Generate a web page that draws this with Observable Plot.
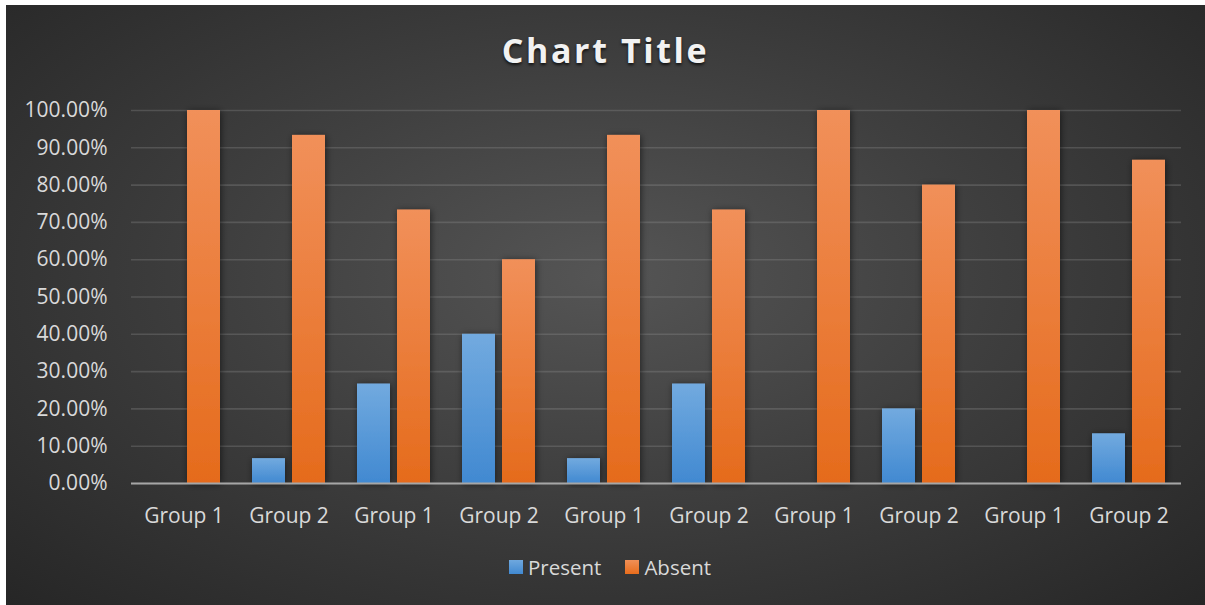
<!DOCTYPE html>
<html>
<head>
<meta charset="utf-8">
<script src="https://cdn.jsdelivr.net/npm/d3@7"></script>
<script src="https://cdn.jsdelivr.net/npm/@observablehq/plot@0.6"></script>
<style>
  html, body { margin: 0; padding: 0; background: #ffffff; }
  #frame {
    position: absolute; left: 6px; top: 5px; width: 1199px; height: 600px;
    background: radial-gradient(ellipse farthest-corner at 50% 45%, #555555 0%, #3f3f3f 45%, #262626 100%);
    font-family: "Open Sans", sans-serif; overflow: hidden;
  }
  #title {
    position: absolute; left: 0; width: 100%; top: 22px; text-align: center;
    font-size: 34px; font-weight: 700; letter-spacing: 2.6px; color: #f2f2f2;
    text-shadow: 0 2px 3px rgba(0,0,0,0.7);
  }
  #chart { position: absolute; left: 0; top: 0; }
  #legend {
    position: absolute; top: 548px; left: 503px; display: flex; align-items: center;
    font-size: 20.5px; color: #d9d9d9;
  }
  .item { display: flex; align-items: center; margin-right: 24px; }
  .sw { width: 14px; height: 14px; margin-right: 5px; }
</style>
</head>
<body>
<div id="frame">
  <div id="chart"></div>
  <div id="title">Chart Title</div>
  <div id="legend">
    <div class="item"><div class="sw" style="background:linear-gradient(#6fa8de,#4189d1)"></div>Present</div>
    <div class="item"><div class="sw" style="background:linear-gradient(#f19057,#e86d1c)"></div>Absent</div>
  </div>
</div>
<script>
const categories = ["Group 1","Group 2","Group 1","Group 2","Group 1","Group 2","Group 1","Group 2","Group 1","Group 2"];
const seriesNames = ["Present","Absent"];
const present = [0, 6.67, 26.67, 40, 6.67, 26.67, 0, 20, 0, 13.33];
const absent = [100, 93.33, 73.33, 60, 93.33, 73.33, 100, 80, 100, 86.67];
const yTicks = [0,10,20,30,40,50,60,70,80,90,100];

const rows = categories.flatMap((c, i) => [
  {idx: i, cat: c, series: seriesNames[0], value: present[i]},
  {idx: i, cat: c, series: seriesNames[1], value: absent[i]}
]);

const chart = Plot.plot({
  width: 1199, height: 600,
  marginLeft: 124, marginRight: 24, marginTop: 105, marginBottom: 122,
  style: {background: "transparent", color: "#d9d9d9", fontFamily: "Open Sans", fontSize: "21px", overflow: "visible"},
  fx: {domain: d3.range(categories.length), padding: 0, label: null},
  x: {domain: seriesNames, paddingInner: 0.175, paddingOuter: 0.4, axis: null},
  y: {domain: [0, 100], label: null},
  marks: [
    Plot.gridY(yTicks, {stroke: "#9a9a9a", strokeOpacity: 0.28, strokeWidth: 1.6}),
    Plot.barY(rows.filter(d => d.series === "Present"), {fx: "idx", x: "series", y: "value", fill: "url(#gradPresent)"}),
    Plot.barY(rows.filter(d => d.series === "Absent"), {fx: "idx", x: "series", y: "value", fill: "url(#gradAbsent)"}),
    Plot.ruleY([0], {stroke: "#a6a6a6", strokeWidth: 2.2}),
    Plot.axisY({ticks: yTicks, tickFormat: d => d.toFixed(2) + "%", tickSize: 0, tickPadding: 24, label: null, fontSize: 21, fill: "#d9d9d9"}),
    Plot.axisFx({anchor: "bottom", tickFormat: i => categories[i], tickSize: 0, tickPadding: 25, label: null, fontSize: 21, fill: "#d9d9d9"})
  ]
});

const defs = d3.select(chart).insert("defs", ":first-child");
const gp = defs.append("linearGradient").attr("id", "gradPresent").attr("x1", 0).attr("y1", 0).attr("x2", 0).attr("y2", 1);
gp.append("stop").attr("offset", "0%").attr("stop-color", "#72aadf");
gp.append("stop").attr("offset", "100%").attr("stop-color", "#4189d1");
const ga = defs.append("linearGradient").attr("id", "gradAbsent").attr("x1", 0).attr("y1", 0).attr("x2", 0).attr("y2", 1);
ga.append("stop").attr("offset", "0%").attr("stop-color", "#f1905a");
ga.append("stop").attr("offset", "100%").attr("stop-color", "#e56b1c");
const f = defs.append("filter").attr("id", "barShadow").attr("x", "-50%").attr("y", "-20%").attr("width", "200%").attr("height", "140%");
f.append("feDropShadow").attr("dx", 1).attr("dy", 1).attr("stdDeviation", 3.5).attr("flood-color", "#000").attr("flood-opacity", 0.55);

d3.select(chart).selectAll("g[aria-label='bar'] rect").attr("filter", "url(#barShadow)");

document.getElementById("chart").appendChild(chart);
</script>
</body>
</html>
